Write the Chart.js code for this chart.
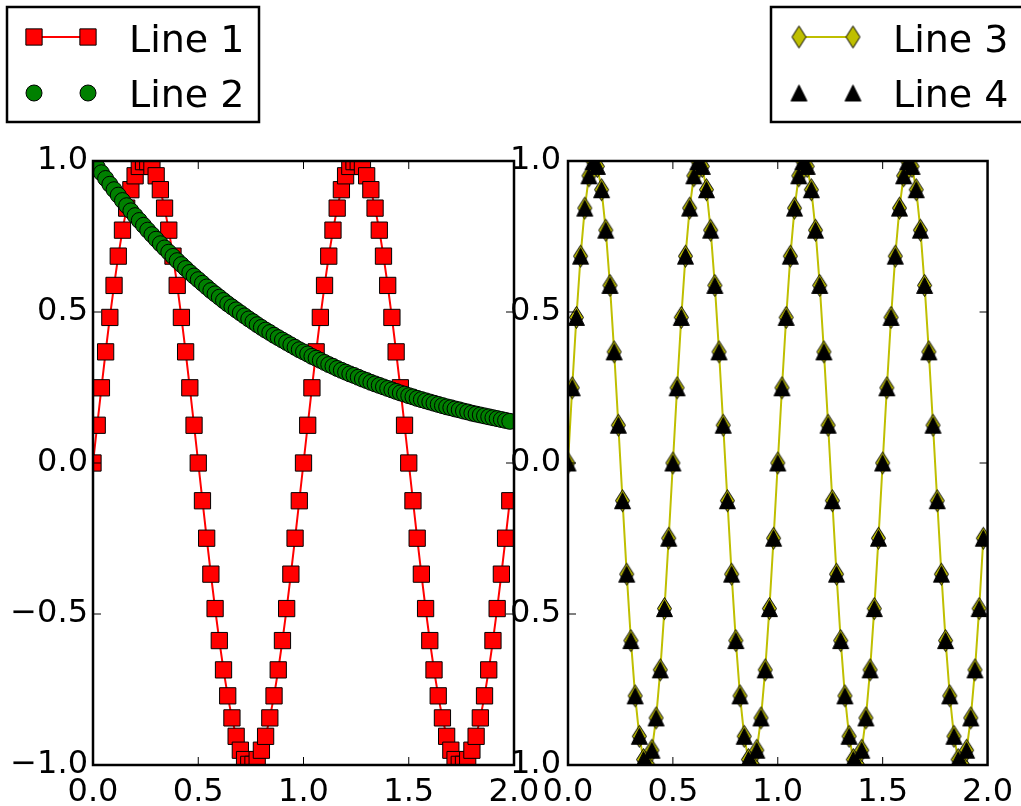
<!DOCTYPE html>
<html>
<head>
<meta charset="utf-8">
<script src="https://cdn.jsdelivr.net/npm/chart.js@4.4.0/dist/chart.umd.min.js"></script>
<style>
html, body { margin: 0; padding: 0; background: #fff; }
#wrap { position: relative; width: 1021px; height: 806px; }
#wrap canvas { position: absolute; left: 0; top: 0; }
</style>
</head>
<body>
<div id="wrap">
  <canvas id="leftChart" width="1021" height="806"></canvas>
  <canvas id="rightChart" width="1021" height="806"></canvas>
</div>
<script>
// x positions shared by all four series
const xValues = [
  0, 0.02, 0.04, 0.06, 0.08, 0.1, 0.12, 0.14, 0.16, 0.18,
  0.2, 0.22, 0.24, 0.26, 0.28, 0.3, 0.32, 0.34, 0.36, 0.38,
  0.4, 0.42, 0.44, 0.46, 0.48, 0.5, 0.52, 0.54, 0.56, 0.58,
  0.6, 0.62, 0.64, 0.66, 0.68, 0.7, 0.72, 0.74, 0.76, 0.78,
  0.8, 0.82, 0.84, 0.86, 0.88, 0.9, 0.92, 0.94, 0.96, 0.98,
  1, 1.02, 1.04, 1.06, 1.08, 1.1, 1.12, 1.14, 1.16, 1.18,
  1.2, 1.22, 1.24, 1.26, 1.28, 1.3, 1.32, 1.34, 1.36, 1.38,
  1.4, 1.42, 1.44, 1.46, 1.48, 1.5, 1.52, 1.54, 1.56, 1.58,
  1.6, 1.62, 1.64, 1.66, 1.68, 1.7, 1.72, 1.74, 1.76, 1.78,
  1.8, 1.82, 1.84, 1.86, 1.88, 1.9, 1.92, 1.94, 1.96, 1.98
];

const line1 = [
  0, 0.125, 0.249, 0.368, 0.482, 0.588, 0.685, 0.771, 0.844, 0.905,
  0.951, 0.982, 0.998, 0.998, 0.982, 0.951, 0.905, 0.844, 0.771, 0.685,
  0.588, 0.482, 0.368, 0.249, 0.125, 0, -0.125, -0.249, -0.368, -0.482,
  -0.588, -0.685, -0.771, -0.844, -0.905, -0.951, -0.982, -0.998, -0.998, -0.982,
  -0.951, -0.905, -0.844, -0.771, -0.685, -0.588, -0.482, -0.368, -0.249, -0.125,
  0, 0.125, 0.249, 0.368, 0.482, 0.588, 0.685, 0.771, 0.844, 0.905,
  0.951, 0.982, 0.998, 0.998, 0.982, 0.951, 0.905, 0.844, 0.771, 0.685,
  0.588, 0.482, 0.368, 0.249, 0.125, 0, -0.125, -0.249, -0.368, -0.482,
  -0.588, -0.685, -0.771, -0.844, -0.905, -0.951, -0.982, -0.998, -0.998, -0.982,
  -0.951, -0.905, -0.844, -0.771, -0.685, -0.588, -0.482, -0.368, -0.249, -0.125
];

const line2 = [
  1, 0.980, 0.961, 0.942, 0.923, 0.905, 0.887, 0.869, 0.852, 0.835,
  0.819, 0.803, 0.787, 0.771, 0.756, 0.741, 0.726, 0.712, 0.698, 0.684,
  0.670, 0.657, 0.644, 0.631, 0.619, 0.607, 0.595, 0.583, 0.571, 0.560,
  0.549, 0.538, 0.527, 0.517, 0.507, 0.497, 0.487, 0.477, 0.468, 0.458,
  0.449, 0.440, 0.432, 0.423, 0.415, 0.407, 0.399, 0.391, 0.383, 0.375,
  0.368, 0.361, 0.353, 0.347, 0.340, 0.333, 0.326, 0.320, 0.313, 0.307,
  0.301, 0.295, 0.290, 0.284, 0.278, 0.273, 0.267, 0.262, 0.257, 0.252,
  0.247, 0.242, 0.237, 0.232, 0.228, 0.223, 0.219, 0.214, 0.210, 0.206,
  0.202, 0.198, 0.194, 0.190, 0.186, 0.183, 0.179, 0.176, 0.172, 0.169,
  0.165, 0.162, 0.159, 0.156, 0.153, 0.150, 0.147, 0.144, 0.141, 0.138
];

const line3 = [
  0, 0.249, 0.482, 0.685, 0.844, 0.951, 0.998, 0.982, 0.905, 0.771,
  0.588, 0.368, 0.125, -0.125, -0.368, -0.588, -0.771, -0.905, -0.982, -0.998,
  -0.951, -0.844, -0.685, -0.482, -0.249,
  0, 0.249, 0.482, 0.685, 0.844, 0.951, 0.998, 0.982, 0.905, 0.771,
  0.588, 0.368, 0.125, -0.125, -0.368, -0.588, -0.771, -0.905, -0.982, -0.998,
  -0.951, -0.844, -0.685, -0.482, -0.249,
  0, 0.249, 0.482, 0.685, 0.844, 0.951, 0.998, 0.982, 0.905, 0.771,
  0.588, 0.368, 0.125, -0.125, -0.368, -0.588, -0.771, -0.905, -0.982, -0.998,
  -0.951, -0.844, -0.685, -0.482, -0.249,
  0, 0.249, 0.482, 0.685, 0.844, 0.951, 0.998, 0.982, 0.905, 0.771,
  0.588, 0.368, 0.125, -0.125, -0.368, -0.588, -0.771, -0.905, -0.982, -0.998,
  -0.951, -0.844, -0.685, -0.482, -0.249
];

// triangles sit on the same points as line 3
const line4 = line3.slice();

const xTicks = [0, 0.5, 1, 1.5, 2];
const yTicks = [-1, -0.5, 0, 0.5, 1];

const FONT = "'DejaVu Sans', 'Liberation Sans', sans-serif";
Chart.defaults.font.family = FONT;
Chart.defaults.color = '#000';

function toPoints(ys) {
  return ys.map((y, i) => ({ x: xValues[i], y: y }));
}

function fmtTick(v) {
  const s = Math.abs(v).toFixed(1);
  return v < 0 ? '\u2212' + s : s;
}

function markerCanvas(w, h, draw) {
  const c = document.createElement('canvas');
  c.width = w;
  c.height = h;
  draw(c.getContext('2d'), w, h);
  return c;
}

const thinDiamond = markerCanvas(17, 25, (g, w, h) => {
  g.beginPath();
  g.moveTo(w / 2, 1.5);
  g.lineTo(w - 1.5, h / 2);
  g.lineTo(w / 2, h - 1.5);
  g.lineTo(1.5, h / 2);
  g.closePath();
  g.fillStyle = '#bfbf00';
  g.fill();
  g.lineWidth = 1;
  g.strokeStyle = '#000';
  g.stroke();
});

const triangleUp = markerCanvas(19, 19, (g, w, h) => {
  g.beginPath();
  g.moveTo(w / 2, 1.5);
  g.lineTo(w - 1.5, h - 1.5);
  g.lineTo(1.5, h - 1.5);
  g.closePath();
  g.fillStyle = '#000';
  g.fill();
  g.lineWidth = 1;
  g.strokeStyle = '#000';
  g.stroke();
});

// box round the plot area and inward ticks on all four sides
const frame = {
  id: 'frame',
  afterDatasetsDraw(chart) {
    const ctx = chart.ctx;
    const a = chart.chartArea;
    const xs = chart.scales.x, ys = chart.scales.y;
    ctx.save();
    ctx.strokeStyle = '#000';
    ctx.lineWidth = 1;
    ctx.beginPath();
    xTicks.forEach(t => {
      const px = xs.getPixelForValue(t);
      ctx.moveTo(px, a.bottom); ctx.lineTo(px, a.bottom - 8);
      ctx.moveTo(px, a.top); ctx.lineTo(px, a.top + 8);
    });
    yTicks.forEach(t => {
      const py = ys.getPixelForValue(t);
      ctx.moveTo(a.left, py); ctx.lineTo(a.left + 8, py);
      ctx.moveTo(a.right, py); ctx.lineTo(a.right - 8, py);
    });
    ctx.stroke();
    ctx.lineWidth = 2.5;
    ctx.strokeRect(a.left, a.top, a.right - a.left, a.bottom - a.top);
    ctx.restore();
  }
};

// figure legend: boxed, line + two markers + label per row
const figLegend = {
  id: 'figLegend',
  afterDraw(chart, args, opts) {
    const ctx = chart.ctx;
    const [x1, y1, x2, y2] = opts.box;
    ctx.save();
    ctx.fillStyle = '#fff';
    ctx.fillRect(x1, y1, x2 - x1, y2 - y1);
    ctx.strokeStyle = '#000';
    ctx.lineWidth = 2.5;
    ctx.strokeRect(x1, y1, x2 - x1, y2 - y1);
    opts.order.forEach((di, row) => {
      const ds = chart.data.datasets[di];
      const cy = opts.rowY[row];
      if (ds.showLine !== false) {
        ctx.strokeStyle = ds.borderColor;
        ctx.lineWidth = ds.borderWidth;
        ctx.beginPath();
        ctx.moveTo(opts.markerX[0], cy);
        ctx.lineTo(opts.markerX[1], cy);
        ctx.stroke();
      }
      opts.markerX.forEach(mx => {
        ctx.fillStyle = ds.pointBackgroundColor || '#000';
        ctx.strokeStyle = ds.pointBorderColor || '#000';
        ctx.lineWidth = ds.pointBorderWidth || 1;
        Chart.helpers.drawPoint(ctx, {
          pointStyle: ds.pointStyle,
          radius: ds.pointRadius,
          borderWidth: ds.pointBorderWidth || 1,
          rotation: 0
        }, mx, cy);
      });
      ctx.fillStyle = '#000';
      ctx.font = '38px ' + FONT;
      ctx.textBaseline = 'alphabetic';
      ctx.textAlign = 'left';
      ctx.fillText(ds.label, opts.textX, opts.baseY[row]);
    });
    ctx.restore();
  }
};

function axisOptions(yWidth, yPad) {
  return {
    x: {
      type: 'linear', min: 0, max: 2,
      afterFit: s => { s.height = 41; },
      afterBuildTicks: s => { s.ticks = xTicks.map(v => ({ value: v })); },
      grid: { display: false, drawTicks: false },
      border: { display: false },
      ticks: { padding: 8, maxRotation: 0, autoSkip: false, font: { size: 32 }, callback: v => fmtTick(v) }
    },
    y: {
      type: 'linear', min: -1, max: 1,
      afterFit: s => { s.width = yWidth; },
      afterBuildTicks: s => { s.ticks = yTicks.map(v => ({ value: v })); },
      grid: { display: false, drawTicks: false },
      border: { display: false },
      ticks: { padding: yPad, autoSkip: false, font: { size: 32 }, callback: v => fmtTick(v) }
    }
  };
}

new Chart(document.getElementById('leftChart'), {
  type: 'line',
  data: {
    datasets: [{
      label: 'Line 1',
      data: toPoints(line1),
      borderColor: '#ff0000',
      borderWidth: 2,
      pointStyle: 'rect',
      pointRadius: 11.5,
      pointBackgroundColor: '#ff0000',
      pointBorderColor: '#000',
      pointBorderWidth: 1,
      order: 1
    }, {
      label: 'Line 2',
      data: toPoints(line2),
      showLine: false,
      pointStyle: 'circle',
      pointRadius: 8,
      pointBackgroundColor: '#008000',
      pointBorderColor: '#000',
      pointBorderWidth: 1,
      order: 0
    }]
  },
  options: {
    responsive: false,
    animation: false,
    events: [],
    layout: { padding: { left: 0, right: 507, top: 161, bottom: 0 } },
    scales: axisOptions(93, 5),
    plugins: {
      legend: { display: false },
      tooltip: { enabled: false },
      figLegend: { box: [7, 7, 259, 122], order: [0, 1], rowY: [37, 93], baseY: [52, 107], markerX: [34, 88], textX: 129 }
    }
  },
  plugins: [frame, figLegend]
});

new Chart(document.getElementById('rightChart'), {
  type: 'line',
  data: {
    datasets: [{
      label: 'Line 3',
      data: toPoints(line3),
      borderColor: '#bfbf00',
      borderWidth: 2,
      pointStyle: thinDiamond,
      pointRadius: 8,
      pointBackgroundColor: '#bfbf00',
      pointBorderColor: '#000',
      pointBorderWidth: 1,
      order: 1
    }, {
      label: 'Line 4',
      data: toPoints(line4),
      showLine: false,
      pointStyle: triangleUp,
      pointRadius: 8,
      pointBackgroundColor: '#000',
      pointBorderColor: '#000',
      pointBorderWidth: 1,
      order: 0
    }]
  },
  options: {
    responsive: false,
    animation: false,
    events: [],
    layout: { padding: { left: 508, right: 30, top: 161, bottom: 0 } },
    scales: axisOptions(60, 7),
    plugins: {
      legend: { display: false },
      tooltip: { enabled: false },
      figLegend: { box: [771, 7, 1023, 122], order: [0, 1], rowY: [37, 93], baseY: [52, 107], markerX: [799, 853], textX: 893 }
    }
  },
  plugins: [frame, figLegend]
});
</script>
</body>
</html>
